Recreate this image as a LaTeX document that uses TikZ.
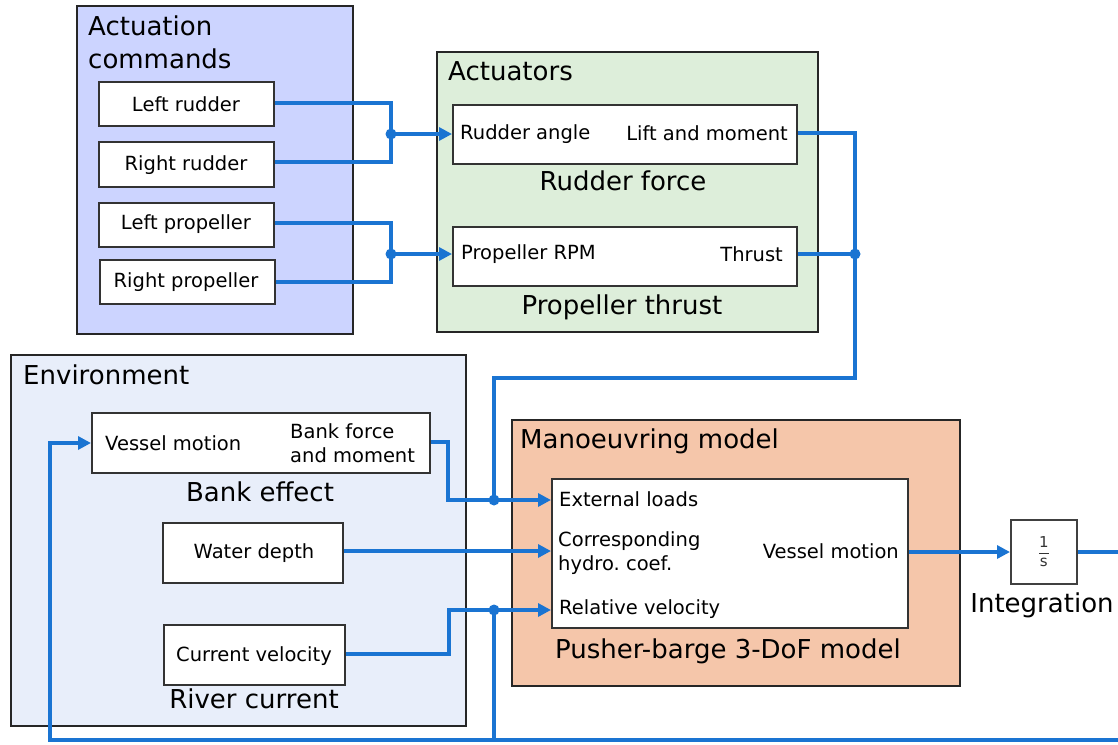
\documentclass[tikz,border=0pt]{standalone}
\usepackage{fontspec}
\setmainfont{DejaVu Sans}
\usetikzlibrary{arrows.meta}
\definecolor{cmdblue}{RGB}{204,212,255}
\definecolor{actgreen}{RGB}{221,238,218}
\definecolor{envblue}{RGB}{232,238,250}
\definecolor{manorange}{RGB}{245,198,170}
\definecolor{wireblue}{RGB}{26,116,210}
\frenchspacing
\begin{document}
\begin{tikzpicture}[x=1pt,y=-1pt,
  group/.style={draw=black!85, line width=2.4pt, anchor=north west, inner sep=0pt},
  block/.style={draw=black!80, fill=white, line width=1.5pt, anchor=north west, inner sep=0pt},
  title/.style={font=\fontsize{26}{30}\selectfont, anchor=base west, inner sep=0pt},
  caption/.style={font=\fontsize{26}{30}\selectfont, anchor=base, inner sep=0pt},
  txt/.style={font=\fontsize{19.5}{23}\selectfont, anchor=base west, inner sep=0pt},
  txtc/.style={font=\fontsize{19.5}{23}\selectfont, anchor=base, inner sep=0pt},
  txtr/.style={font=\fontsize{19.5}{23}\selectfont, anchor=base east, inner sep=0pt},
  wire/.style={draw=wireblue, line width=3.2pt},
  arr/.style={wire, -{Triangle[length=13pt,width=13pt]}},
  jdot/.style={circle, fill=wireblue, inner sep=0pt, minimum size=11pt},
]
\useasboundingbox (0,0) rectangle (1118,744);

% ---------- Actuation commands ----------
\node[group, fill=cmdblue, minimum width=276pt, minimum height=328pt] (cmd) at (76,5) {};
\node[title] (cmdt1) at (88,35) {Actuation};
\node[title] (cmdt2) at (88,68) {commands};
\node[block, minimum width=175pt, minimum height=44pt] (lr) at (98,81) {};
\node[block, minimum width=175pt, minimum height=45pt] (rr) at (98,141) {};
\node[block, minimum width=175pt, minimum height=44pt] (lp) at (98,202) {};
\node[block, minimum width=175pt, minimum height=44pt] (rp) at (99,259) {};
\node[txtc] (lrt) at (186,111) {Left rudder};
\node[txtc] (rrt) at (186,170) {Right rudder};
\node[txtc] (lpt) at (186,229) {Left propeller};
\node[txtc] (rpt) at (186,287) {Right propeller};

% ---------- Actuators ----------
\node[group, fill=actgreen, minimum width=381pt, minimum height=280pt] (act) at (436,51) {};
\node[title] (actt) at (448,80) {Actuators};
\node[block, minimum width=344pt, minimum height=59pt] (rf) at (452,104) {};
\node[txt] (rfin) at (460,139) {Rudder angle};
\node[txtr] (rfout) at (788,140) {Lift and moment};
\node[caption] (rfcap) at (623,190) {Rudder force};
\node[block, minimum width=344pt, minimum height=59pt] (pt) at (452,226) {};
\node[txt] (ptin) at (461,259) {Propeller RPM};
\node[txtr] (ptout) at (783,261) {Thrust};
\node[caption] (ptcap) at (622,314) {Propeller thrust};

% ---------- Environment ----------
\node[group, fill=envblue, minimum width=455pt, minimum height=371pt] (env) at (10,354) {};
\node[title] (envt) at (23,384) {Environment};
\node[block, minimum width=338pt, minimum height=60pt] (be) at (91,412) {};
\node[txt] (bein) at (105,450) {Vessel motion};
\node[txt] (beout1) at (290,438) {Bank force};
\node[txt] (beout2) at (290,462) {and moment};
\node[caption] (becap) at (260,501) {Bank effect};
\node[block, minimum width=180pt, minimum height=60pt] (wd) at (162,522) {};
\node[txtc] (wdt) at (254,558) {Water depth};
\node[block, minimum width=181pt, minimum height=60pt] (cv) at (163,624) {};
\node[txtc] (cvt) at (254,661) {Current velocity};
\node[caption] (cvcap) at (254,708) {River current};

% ---------- Manoeuvring model ----------
\node[group, fill=manorange, minimum width=448pt, minimum height=266pt] (man) at (511,419) {};
\node[title] (mant) at (520,448) {Manoeuvring model};
\node[block, minimum width=356pt, minimum height=149pt] (pb) at (551,478) {};
\node[txt] (pbin1) at (559,506) {External loads};
\node[txt] (pbin2a) at (558,546) {Corresponding};
\node[txt] (pbin2b) at (558,570) {hydro. coef.};
\node[txt] (pbin3) at (559,614) {Relative velocity};
\node[txtr] (pbout) at (899,558) {Vessel motion};
\node[caption] (pbcap) at (728,658) {Pusher-barge 3-DoF model};

% ---------- Integration ----------
\node[block, minimum width=66pt, minimum height=64pt, draw=black!75, line width=1.6pt] (int) at (1010,519) {};
\node[font=\fontsize{15}{17}\selectfont, inner sep=0pt, text=black!80] (intf) at (int.center) {$\displaystyle\frac{\mathrm{1}}{\mathrm{s}}$};
\node[caption] (intcap) at (1042,612) {Integration};

% ---------- coordinates ----------
\coordinate (j1) at (391,134);
\coordinate (j2) at (391,254);
\coordinate (j3) at (855,254);
\coordinate (j4) at (494,500);
\coordinate (j5) at (494,610);
\coordinate (edgeA) at (1118,552);
\coordinate (edgeB) at (1118,740);

% ---------- connectors ----------
\draw[wire] (lr.east |- 0,103) -| (j1);
\draw[wire] (rr.east |- 0,162) -| (j1);
\draw[arr] (j1) -- (rf.west |- j1);
\draw[wire] (lp.east |- 0,223) -| (j2);
\draw[wire] (rp.east |- 0,282) -| (j2);
\draw[arr] (j2) -- (pt.west |- j2);

\draw[wire] (rf.east |- 0,133) -| (855,378) -| (j4);
\draw[wire] (pt.east |- j3) -- (j3);

\draw[wire] (be.east |- 0,442) -| (448,500) -- (j4);
\draw[arr] (j4) -- (pb.west |- j4);
\draw[arr] (wd.east |- 0,551) -- (pb.west |- 0,551);
\draw[wire] (cv.east |- 0,654) -| (449,610) -- (j5);
\draw[arr] (j5) -- (pb.west |- j5);

\draw[arr] (pb.east |- 0,552) -- (int.west |- 0,552);
\draw[wire] (int.east |- 0,552) -- (edgeA);
\draw[wire] (edgeB) -- (50,740) -- (50,443) -- (60,443);
\draw[arr] (50,443) -- (be.west |- 0,443);
\draw[wire] (j5) -- (494,740);

\node[jdot] (d1) at (j1) {};
\node[jdot] (d2) at (j2) {};
\node[jdot] (d3) at (j3) {};
\node[jdot] (d4) at (j4) {};
\node[jdot] (d5) at (j5) {};
\end{tikzpicture}
\end{document}
